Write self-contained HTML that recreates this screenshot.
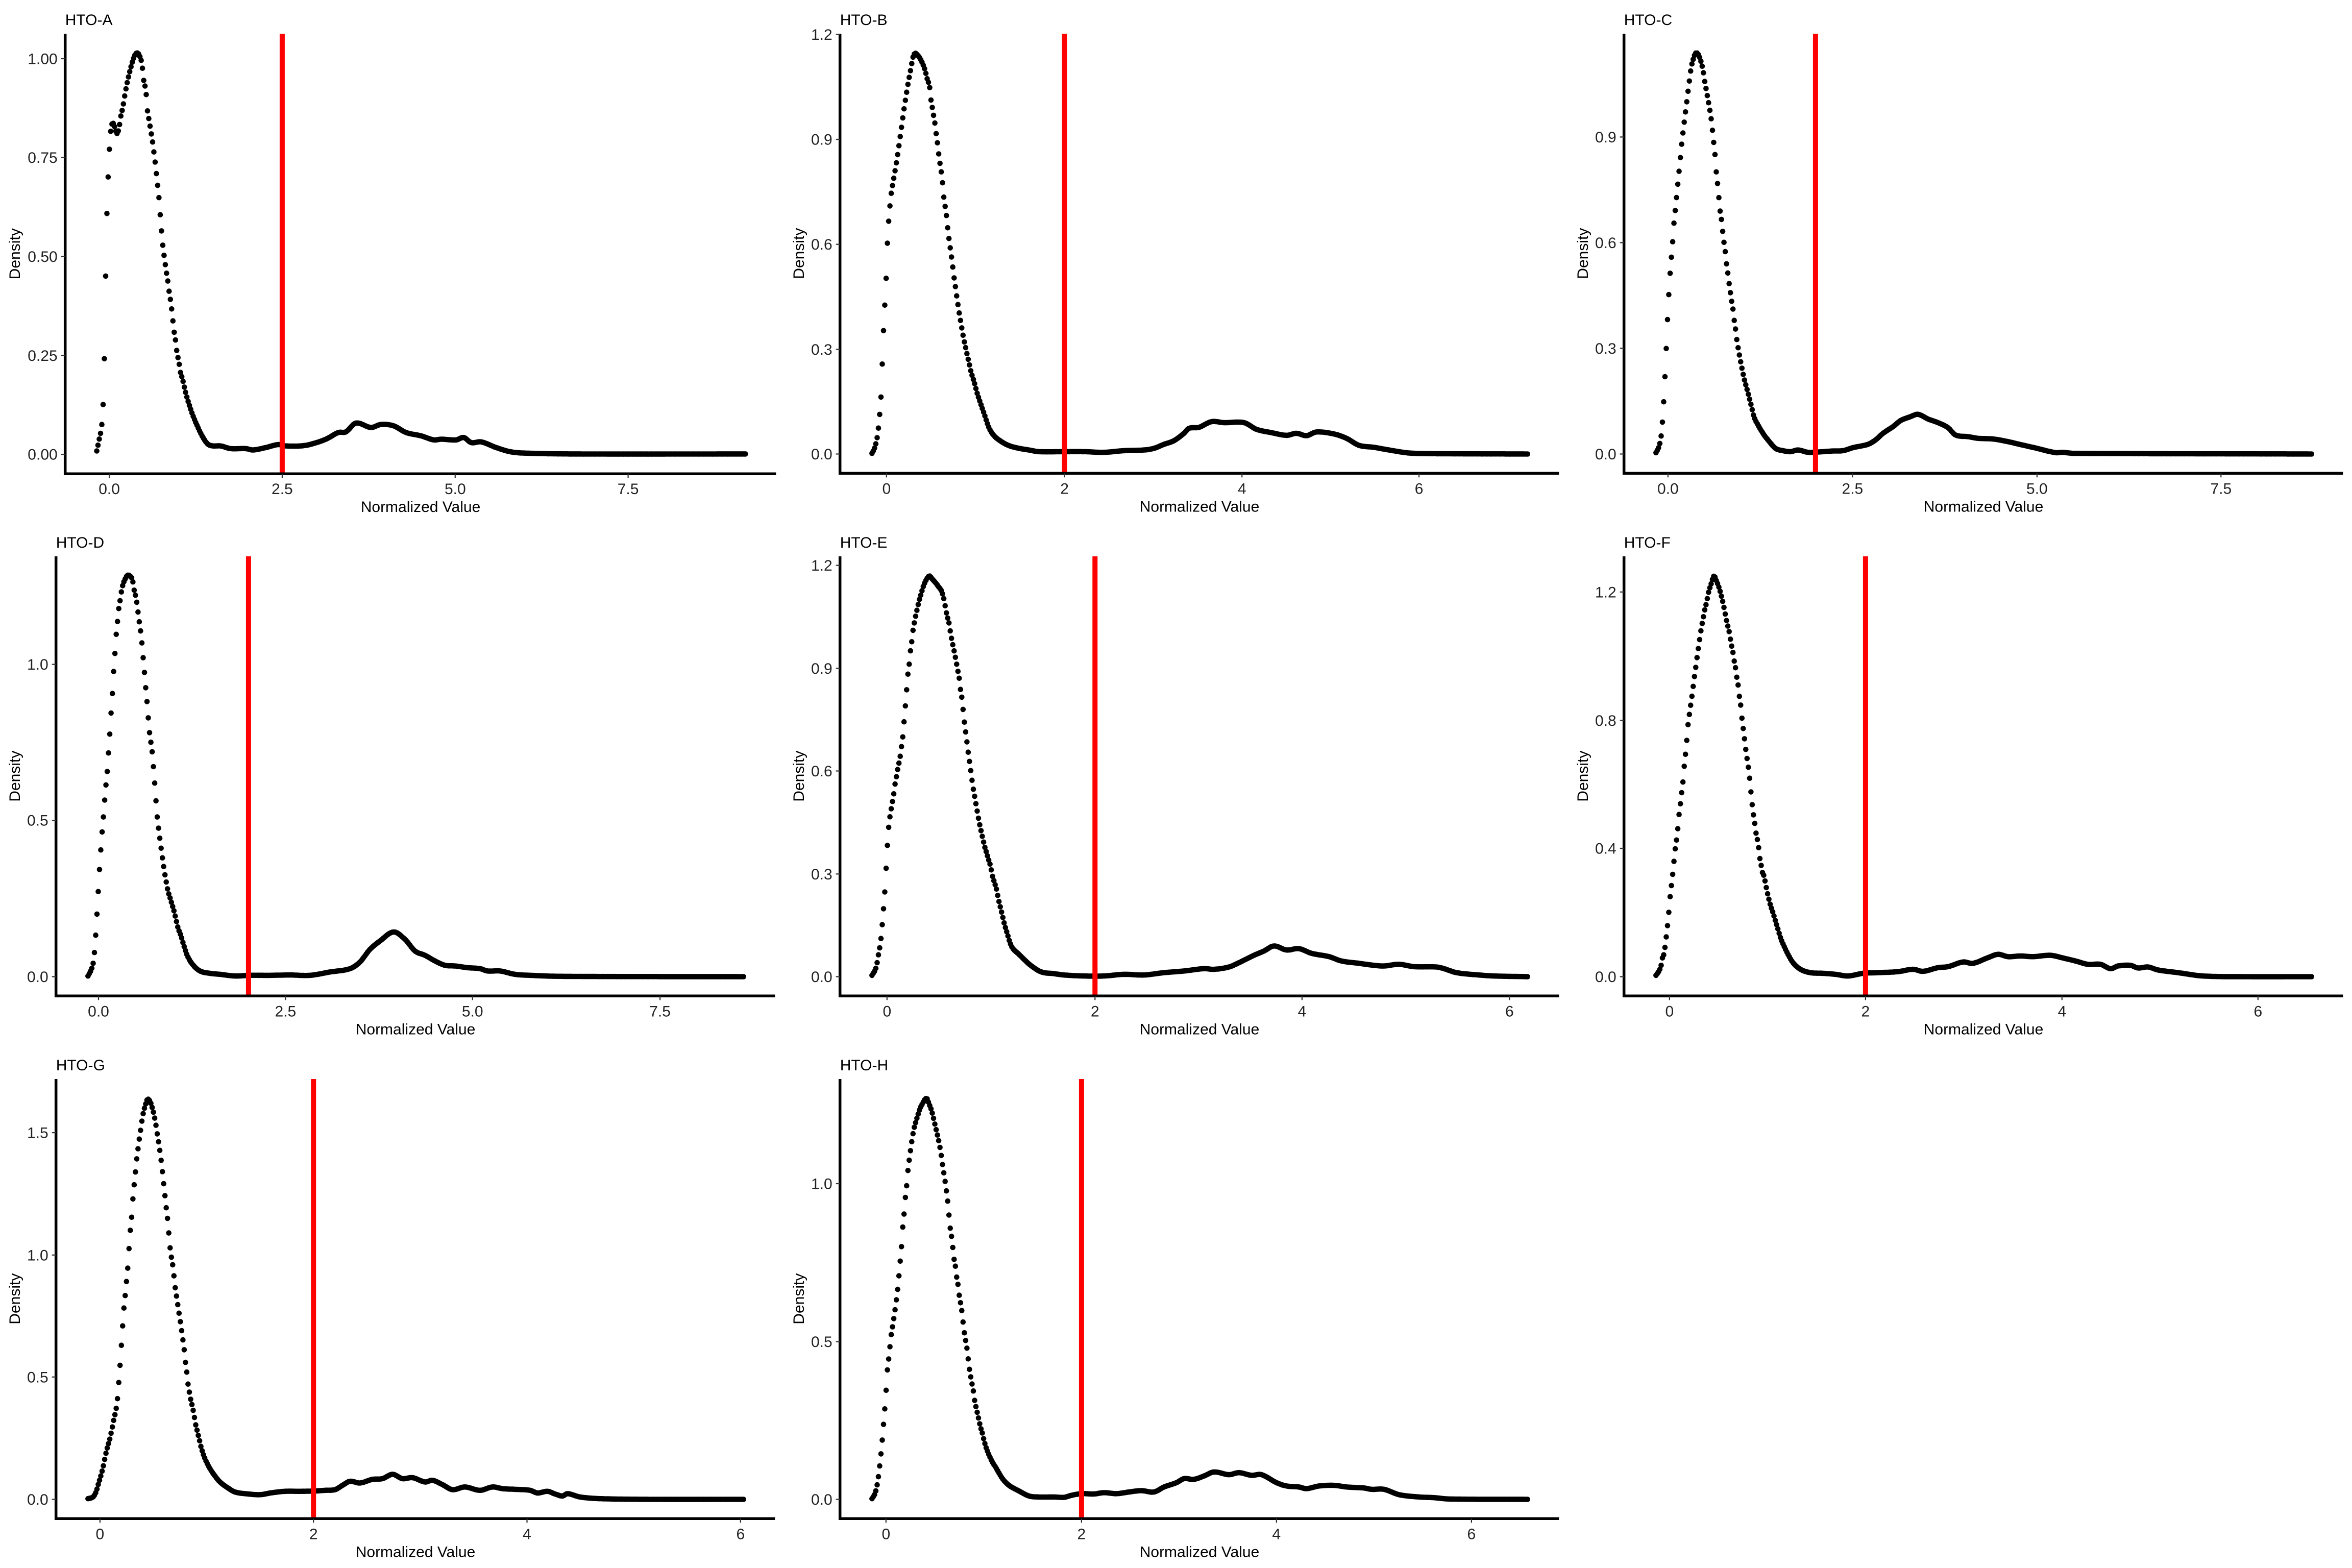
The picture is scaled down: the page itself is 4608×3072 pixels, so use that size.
<!DOCTYPE html>
<html><head><meta charset="utf-8">
<style>
html,body{margin:0;padding:0;background:#fff;}
svg{display:block;}
text{font-family:"Liberation Sans",Arial,sans-serif;}
</style></head>
<body>
<svg id="s" xmlns="http://www.w3.org/2000/svg" width="4608" height="3072" viewBox="0 0 4608 3072">
<rect width="4608" height="3072" fill="#fff"/>
</svg>
<script>
var P=[
{t:"HTO-A",ox:0,oy:0,sx:1540/1568,sy:1030/1568,ax:130,top:101,bot:1413,right:1548,
 xt:[["0.0",218],["2.5",563],["5.0",908],["7.5",1253]],
 yt:[["1.00",175],["0.75",470],["0.50",765],["0.25",1060],["0.00",1355]],red:563,
 c:[[193,1345],[198,1310],[203,1268],[206,1195],[208,1090],[209,957],[211,803],[213,651],[216,520],[219,428],[222,378],[226,368],[229,380],[233,398],[237,385],[241,347],[245,320],[250,275],[255,238],[260,207],[265,180],[270,162],[274,158],[278,165],[283,190],[287,243],[291,270],[294,327],[297,355],[300,382],[303,410],[306,440],[308,468],[311,500],[313,535],[316,570],[318,608],[320,648],[322,686],[324,722],[327,759],[330,792],[333,822],[336,850],[338,877],[341,903],[343,930],[345,958],[347,986],[350,1014],[352,1040],[355,1066],[358,1090],[360,1110],[364,1130],[367,1150],[372,1180],[378,1210],[385,1240],[395,1275],[405,1305],[415,1325],[425,1330],[440,1330],[460,1338],[490,1338],[505,1342],[530,1335],[555,1326],[570,1330],[600,1330],[620,1325],[650,1310],[675,1290],[690,1288],[710,1262],[740,1275],[760,1266],[785,1270],[810,1290],[840,1300],[865,1312],[880,1310],[910,1312],[925,1305],[940,1320],[960,1318],[990,1335],[1020,1348],[1060,1352],[1150,1354],[1487,1354]]},
{t:"HTO-B",ox:1536,oy:0,
 xt:[["0",205],["2",561],["4",916],["6",1270]],
 yt:[["1.2",103],["0.9",418],["0.6",733],["0.3",1048],["0.0",1362]],red:561,
 c:[[176,1360],[181,1345],[185,1323],[188,1295],[191,1250],[194,1190],[196,1115],[198,1028],[201,935],[204,843],[206,760],[208,690],[211,637],[213,597],[216,566],[219,540],[222,514],[225,486],[228,457],[231,425],[234,393],[237,360],[240,328],[243,298],[246,270],[249,243],[252,220],[255,195],[258,172],[262,160],[267,165],[272,175],[277,190],[282,210],[287,240],[291,258],[294,300],[297,326],[300,354],[303,382],[305,411],[308,440],[310,470],[313,500],[316,532],[318,563],[320,596],[323,627],[326,661],[328,693],[331,727],[334,760],[337,792],[339,822],[342,850],[344,876],[347,902],[349,928],[352,950],[354,972],[357,994],[359,1014],[362,1034],[365,1055],[368,1075],[371,1095],[374,1115],[378,1135],[382,1155],[386,1178],[392,1205],[400,1240],[410,1283],[420,1307],[435,1325],[450,1337],[470,1345],[490,1350],[510,1355],[560,1355],[600,1355],[640,1357],[680,1352],[720,1350],[740,1345],[760,1333],[780,1322],[800,1300],[810,1285],[830,1282],[855,1265],[880,1268],[920,1268],[945,1288],[975,1298],[1005,1306],[1025,1300],[1045,1307],[1065,1296],[1100,1302],[1125,1315],[1150,1336],[1180,1342],[1210,1350],[1250,1359],[1300,1361],[1487,1362]]},
{t:"HTO-C",ox:3072,oy:0,
 xt:[["0.0",200],["2.5",569],["5.0",938],["7.5",1306]],
 yt:[["0.9",411],["0.6",728],["0.3",1045],["0.0",1362]],red:495,
 c:[[176,1358],[182,1340],[185,1320],[188,1285],[190,1235],[193,1167],[195,1088],[198,1004],[200,923],[203,855],[205,800],[208,753],[210,711],[212,668],[215,624],[218,578],[221,531],[224,487],[226,449],[229,413],[231,381],[234,351],[236,321],[239,291],[241,261],[244,230],[246,205],[250,180],[255,160],[260,162],[265,180],[270,210],[273,240],[276,265],[279,290],[282,315],[285,343],[288,376],[290,410],[293,446],[295,483],[297,523],[300,562],[302,598],[304,630],[307,660],[309,688],[311,717],[314,747],[316,779],[319,811],[322,848],[325,880],[328,910],[331,938],[333,968],[336,996],[338,1023],[341,1050],[344,1075],[347,1098],[350,1120],[353,1140],[357,1162],[362,1190],[367,1220],[372,1250],[380,1275],[390,1300],[400,1320],[415,1345],[430,1352],[445,1355],[460,1350],[480,1357],[500,1356],[530,1353],[550,1352],[570,1343],[600,1333],[615,1320],[630,1300],[650,1280],[665,1262],[685,1250],[700,1243],[720,1257],[740,1268],[760,1283],[775,1305],[800,1310],[820,1315],[850,1317],[880,1325],[900,1332],[935,1344],[975,1358],[990,1357],[1010,1360],[1487,1362]]},
{t:"HTO-D",ox:0,oy:1024,
 xt:[["0.0",197],["2.5",571],["5.0",945],["7.5",1320]],
 yt:[["1.0",425],["0.5",893],["0.0",1362]],red:497,
 c:[[176,1360],[182,1343],[185,1330],[188,1305],[190,1263],[193,1205],[195,1140],[198,1075],[200,1013],[203,958],[205,910],[208,864],[210,818],[213,770],[216,719],[218,665],[221,607],[223,547],[226,487],[228,427],[231,372],[233,323],[236,284],[238,252],[241,227],[243,205],[246,185],[250,170],[255,158],[260,160],[265,172],[268,200],[272,225],[275,255],[277,280],[280,312],[283,347],[285,386],[288,430],[290,474],[293,517],[295,557],[297,593],[299,628],[302,662],[305,697],[307,735],[309,773],[311,814],[313,855],[315,890],[318,927],[321,962],[324,997],[327,1028],[330,1057],[333,1082],[336,1105],[340,1125],[344,1145],[348,1165],[352,1190],[356,1215],[362,1240],[368,1270],[375,1300],[385,1325],[400,1345],[420,1352],[440,1355],[470,1360],[500,1358],[540,1358],[580,1357],[620,1358],[660,1348],[700,1338],[720,1318],[740,1280],[760,1255],[787,1228],[810,1250],[830,1285],[850,1298],[870,1315],[890,1328],[910,1330],[935,1335],[960,1338],[975,1345],[1000,1345],[1030,1355],[1060,1358],[1120,1361],[1487,1362]]},
{t:"HTO-E",ox:1536,oy:1024,
 xt:[["0",206],["2",622],["4",1036],["6",1451]],
 yt:[["1.2",128],["0.9",437],["0.6",745],["0.3",1054],["0.0",1362]],red:622,
 c:[[176,1358],[183,1340],[186,1322],[189,1295],[193,1260],[196,1215],[199,1160],[202,1100],[204,1043],[206,988],[208,940],[210,904],[213,872],[216,845],[219,820],[222,786],[225,760],[228,735],[232,705],[235,672],[238,637],[240,600],[242,563],[244,525],[246,488],[248,452],[251,417],[253,384],[256,352],[258,324],[261,298],[264,275],[267,255],[270,235],[274,215],[279,190],[285,170],[291,160],[297,170],[303,180],[309,192],[315,205],[320,230],[324,265],[328,290],[331,308],[333,330],[336,354],[339,376],[342,398],[345,422],[348,447],[351,472],[353,500],[356,528],[358,558],[360,588],[362,615],[365,645],[367,675],[370,703],[372,730],[375,757],[377,785],[380,810],[383,836],[386,862],[389,887],[392,910],[395,930],[398,950],[401,970],[405,990],[409,1010],[413,1030],[417,1060],[421,1080],[425,1100],[429,1130],[433,1155],[437,1180],[441,1205],[447,1235],[452,1260],[458,1278],[470,1295],[480,1310],[495,1330],[515,1348],[540,1353],[560,1357],[600,1360],[640,1360],[680,1355],[720,1357],[760,1350],[800,1345],[840,1338],[860,1340],[890,1333],[910,1320],[940,1298],[960,1285],[980,1270],[1005,1282],[1030,1278],[1055,1292],[1090,1302],[1115,1315],[1150,1322],[1180,1328],[1200,1330],[1230,1325],[1260,1332],[1305,1333],[1320,1338],[1345,1350],[1390,1357],[1420,1360],[1487,1362]]},
{t:"HTO-F",ox:3072,oy:1024,
 xt:[["0",203],["2",595],["4",988],["6",1380]],
 yt:[["1.2",208],["0.8",593],["0.4",977],["0.0",1362]],red:595,
 c:[[176,1358],[182,1345],[186,1330],[188,1310],[192,1293],[195,1262],[198,1223],[201,1182],[203,1140],[206,1099],[209,1060],[211,1030],[213,1000],[215,972],[218,942],[220,912],[222,878],[225,840],[228,801],[231,762],[233,720],[236,682],[238,645],[240,608],[243,572],[246,540],[249,508],[252,472],[255,440],[258,406],[261,374],[264,343],[267,313],[270,290],[273,265],[277,240],[281,210],[286,185],[292,160],[297,175],[301,190],[305,210],[310,240],[314,270],[318,300],[322,325],[326,360],[330,390],[333,420],[336,443],[338,468],[341,495],[343,524],[346,555],[348,588],[350,612],[353,648],[356,685],[359,716],[362,748],[364,778],[366,810],[368,840],[370,867],[373,895],[375,922],[378,945],[381,972],[383,1000],[386,1025],[389,1050],[392,1060],[395,1082],[398,1105],[401,1125],[405,1148],[410,1170],[415,1195],[420,1220],[425,1245],[432,1270],[440,1295],[450,1320],[465,1340],[485,1350],[510,1352],[535,1355],[560,1360],[590,1352],[620,1350],[660,1347],[690,1340],[710,1346],[740,1335],[760,1332],[790,1318],[810,1322],[840,1305],[860,1295],[880,1302],[905,1300],[930,1302],[965,1298],[990,1306],[1015,1315],[1040,1325],[1065,1325],[1085,1338],[1100,1330],[1125,1328],[1140,1336],[1160,1333],[1180,1342],[1220,1350],[1270,1360],[1350,1362],[1487,1362]]},
{t:"HTO-G",ox:0,oy:2048,
 xt:[["0",200],["2",627],["4",1054],["6",1481]],
 yt:[["1.5",262],["1.0",629],["0.5",995],["0.0",1362]],red:627,
 c:[[176,1360],[186,1355],[192,1340],[197,1315],[202,1290],[207,1260],[211,1230],[215,1205],[219,1185],[222,1165],[225,1143],[228,1120],[232,1093],[235,1060],[237,1022],[239,985],[241,940],[243,893],[245,848],[247,802],[250,757],[253,708],[256,660],[258,612],[260,566],[263,520],[265,478],[267,437],[270,397],[272,360],[275,323],[278,288],[281,257],[284,225],[287,200],[291,178],[295,162],[300,168],[304,185],[308,208],[312,240],[315,270],[318,298],[321,330],[324,368],[327,410],[330,452],[333,494],[336,532],[338,570],[340,605],[343,638],[346,665],[348,693],[350,722],[353,752],[356,782],[359,812],[362,842],[365,875],[368,907],[370,940],[373,972],[375,1004],[378,1034],[381,1060],[385,1085],[388,1108],[391,1135],[395,1160],[399,1185],[403,1210],[410,1240],[420,1270],[430,1292],[440,1310],[455,1327],[470,1340],[490,1345],[520,1348],[545,1342],[570,1338],[600,1338],[630,1337],[650,1335],[670,1333],[685,1320],[700,1308],[720,1313],[745,1302],[765,1300],[785,1287],[805,1300],[825,1297],[850,1310],[865,1305],[885,1318],[905,1333],[930,1325],[960,1335],[985,1325],[1005,1330],[1030,1332],[1060,1335],[1075,1343],[1095,1338],[1110,1346],[1125,1352],[1135,1345],[1160,1355],[1200,1360],[1300,1362],[1487,1362]]},
{t:"HTO-H",ox:1536,oy:2048,
 xt:[["0",204],["2",595],["4",985],["6",1375]],
 yt:[["1.0",415],["0.5",889],["0.0",1362]],red:595,
 c:[[176,1360],[182,1345],[185,1328],[188,1303],[191,1267],[194,1225],[197,1176],[200,1120],[203,1065],[205,1015],[207,970],[210,933],[212,903],[214,873],[217,845],[220,816],[223,784],[226,748],[229,709],[231,668],[234,625],[236,581],[238,537],[241,493],[243,451],[246,411],[248,373],[251,338],[254,305],[257,275],[260,250],[264,228],[268,208],[272,190],[277,175],[282,162],[286,160],[290,175],[295,195],[299,218],[303,245],[307,270],[311,298],[315,335],[318,367],[321,395],[324,428],[327,462],[329,495],[331,525],[333,555],[336,582],[338,612],[340,640],[343,665],[345,692],[348,718],[350,745],[353,772],[356,800],[358,828],[360,855],[363,883],[366,910],[368,935],[370,962],[373,990],[376,1015],[379,1040],[381,1063],[384,1085],[387,1105],[390,1125],[393,1145],[397,1165],[400,1185],[405,1210],[415,1245],[425,1270],[437,1300],[450,1320],[470,1337],[490,1352],[510,1355],[540,1355],[560,1356],[575,1350],[595,1345],[620,1346],[640,1342],[665,1345],[690,1340],[715,1336],[740,1340],[760,1325],[785,1312],[800,1300],[820,1302],[840,1292],[860,1280],[890,1288],[910,1282],[935,1290],[955,1288],[985,1312],[1005,1322],[1030,1325],[1045,1330],[1070,1322],[1100,1320],[1125,1325],[1160,1328],[1175,1332],[1200,1332],[1230,1348],[1270,1355],[1300,1357],[1330,1361],[1487,1362]]}
];
function interp(c,x){
  var n=c.length,i=0;
  if(x<=c[0][0])return c[0][1];
  if(x>=c[n-1][0])return c[n-1][1];
  while(i<n-2&&c[i+1][0]<x)i++;
  var x0=c[i][0],x1=c[i+1][0],y0=c[i][1],y1=c[i+1][1];
  function sl(k){
    if(k<=0)return (c[1][1]-c[0][1])/(c[1][0]-c[0][0]);
    if(k>=n-1)return (c[n-1][1]-c[n-2][1])/(c[n-1][0]-c[n-2][0]);
    return (c[k+1][1]-c[k-1][1])/(c[k+1][0]-c[k-1][0]);
  }
  var h=x1-x0,t=(x-x0)/h,m0=sl(i)*h,m1=sl(i+1)*h;
  var t2=t*t,t3=t2*t;
  return (2*t3-3*t2+1)*y0+(t3-2*t2+t)*m0+(-2*t3+3*t2)*y1+(t3-t2)*m1;
}
var out=[];
P.forEach(function(p){
  var sx=p.sx||1536/1568, sy=p.sy||1024/1568;
  var pax=(p.ax!==undefined)?p.ax:112, ptop=(p.top!==undefined)?p.top:101,
      pbot=(p.bot!==undefined)?p.bot:1420, pright=(p.right!==undefined)?p.right:1550;
  function X(z){return (p.ox+z*sx).toFixed(1);}
  function Y(z){return (p.oy+z*sy).toFixed(1);}
  var ax=p.ox+pax*sx, top=p.oy+ptop*sy, bot=p.oy+pbot*sy, right=p.ox+pright*sx;
  var c=p.c, x0=c[0][0], x1=c[c.length-1][0], N=512, s='';
  for(var k=0;k<N;k++){
    var zx=x0+(x1-x0)*k/(N-1), zy=interp(c,zx);
    s+='<circle cx="'+X(zx)+'" cy="'+Y(zy)+'" r="5.3"/>';
  }
  out.push('<g fill="#000">'+s+'</g>');
  out.push('<rect x="'+(p.ox+p.red*sx-5).toFixed(1)+'" y="'+top.toFixed(1)+'" width="10" height="'+(bot-top).toFixed(1)+'" fill="#FF0000"/>');
  out.push('<line x1="'+ax.toFixed(1)+'" y1="'+top.toFixed(1)+'" x2="'+ax.toFixed(1)+'" y2="'+(bot+2.5).toFixed(1)+'" stroke="#000" stroke-width="5.5"/>');
  out.push('<line x1="'+(ax-2.7).toFixed(1)+'" y1="'+bot.toFixed(1)+'" x2="'+right.toFixed(1)+'" y2="'+bot.toFixed(1)+'" stroke="#000" stroke-width="5.5"/>');
  p.yt.forEach(function(t){
    var y=p.oy+t[1]*sy;
    out.push('<line x1="'+(ax-8).toFixed(1)+'" y1="'+y.toFixed(1)+'" x2="'+ax.toFixed(1)+'" y2="'+y.toFixed(1)+'" stroke="#333" stroke-width="2.2"/>');
    out.push('<text x="'+(ax-15).toFixed(1)+'" y="'+(y+10.5).toFixed(1)+'" font-size="30" fill="#222" text-anchor="end">'+t[0]+'</text>');
  });
  p.xt.forEach(function(t){
    var x=p.ox+t[1]*sx;
    out.push('<line x1="'+x.toFixed(1)+'" y1="'+bot.toFixed(1)+'" x2="'+x.toFixed(1)+'" y2="'+(bot+8).toFixed(1)+'" stroke="#333" stroke-width="2.2"/>');
    out.push('<text x="'+x.toFixed(1)+'" y="'+(bot+40).toFixed(1)+'" font-size="30" fill="#222" text-anchor="middle">'+t[0]+'</text>');
  });
  out.push('<text x="'+ax.toFixed(1)+'" y="'+(p.oy+49)+'" font-size="30" fill="#000">'+p.t+'</text>');
  out.push('<text x="'+((ax+right)/2).toFixed(1)+'" y="'+(bot+75).toFixed(1)+'" font-size="30" fill="#000" text-anchor="middle">Normalized Value</text>');
  var cy=(top+bot)/2, bx=p.ox+39;
  out.push('<text transform="translate('+bx+','+cy.toFixed(1)+') rotate(-90)" x="0" y="0" font-size="30" fill="#000" text-anchor="middle">Density</text>');
});
document.getElementById('s').insertAdjacentHTML('beforeend',out.join(''));
</script>
</body></html>
